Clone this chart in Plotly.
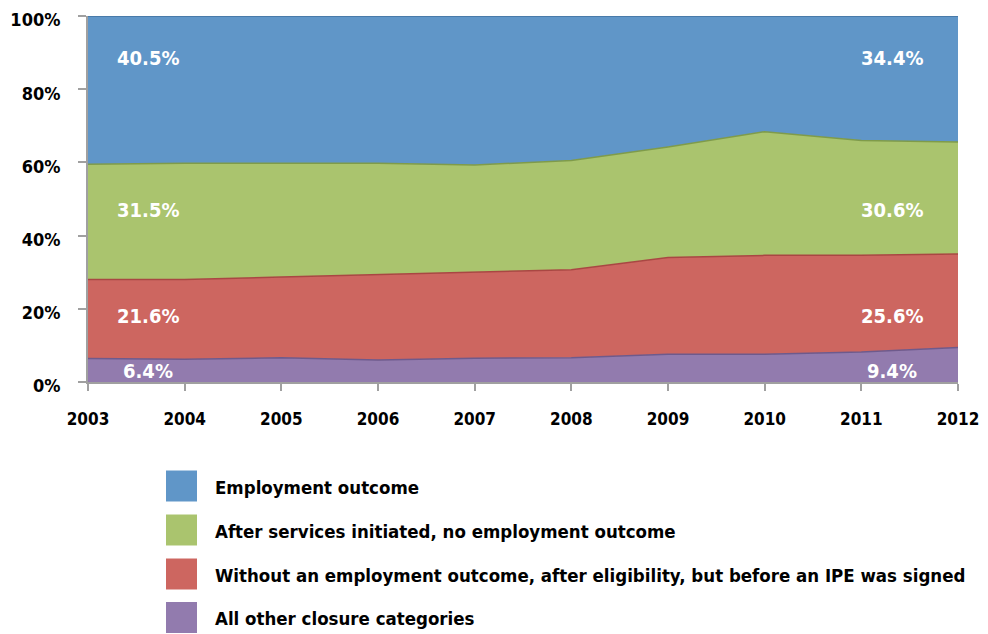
import plotly.graph_objects as go

years = [2003, 2004, 2005, 2006, 2007, 2008, 2009, 2010, 2011, 2012]
series_names = [
    "Employment outcome",
    "After services initiated, no employment outcome",
    "Without an employment outcome, after eligibility, but before an IPE was signed",
    "All other closure categories",
]
employment = [40.5, 40.2, 40.2, 40.2, 40.7, 39.5, 35.8, 31.6, 34.0, 34.4]
after_services = [31.5, 31.8, 31.1, 30.4, 29.2, 29.8, 30.2, 33.8, 31.4, 30.6]
before_ipe = [21.6, 21.8, 22.1, 23.4, 23.6, 24.1, 26.4, 27.0, 26.4, 25.6]
other = [6.4, 6.2, 6.6, 6.0, 6.5, 6.6, 7.6, 7.6, 8.2, 9.4]
y_ticks = [0, 20, 40, 60, 80, 100]
y_tick_labels = ["0%", "20%", "40%", "60%", "80%", "100%"]

fills = ["#6096C8", "#AAC46E", "#CD6660", "#927BAE"]
lines = ["#41709F", "#7F9B4A", "#A94743", "#6E5A8C"]

FONT = "DejaVu Sans Condensed, Liberation Sans Narrow, Roboto, sans-serif"

# page body has an 8px margin -> figure drawn offset by 8px
OFF = 8
W, H = 988 - OFF, 634 - OFF
PL, PR, PT, PB = 88, 958, 16, 382  # target plot box in window pixels

fig = go.Figure()
values = [employment, after_services, before_ipe, other]
for idx in [3, 2, 1, 0]:
    fig.add_trace(go.Scatter(
        x=years, y=values[idx], name=series_names[idx],
        mode="lines", stackgroup="one",
        line=dict(color=lines[idx], width=1.5),
        fillcolor=fills[idx], showlegend=False,
        hoverinfo="x+y+name",
    ))

label_y = [88.4, 46.9, 18.0, 2.9]
annotations = []
for idx in range(4):
    annotations.append(dict(
        x=2003.62, y=label_y[idx], xref="x", yref="y",
        text=f"<b>{values[idx][0]:.1f}%</b>", showarrow=False,
        font=dict(family=FONT, size=20, color="white"),
    ))
    annotations.append(dict(
        x=2011.32, y=label_y[idx], xref="x", yref="y",
        text=f"<b>{values[idx][-1]:.1f}%</b>", showarrow=False,
        font=dict(family=FONT, size=20, color="white"),
    ))

def px_to_paper_x(px):
    return (px - PL) / (PR - PL)

def px_to_paper_y(py):
    return (PB - py) / (PB - PT)

shapes = []
legend_y = [486, 530, 574, 617.5]
for idx in range(4):
    yc = legend_y[idx]
    shapes.append(dict(
        type="rect", xref="paper", yref="paper",
        x0=px_to_paper_x(166), x1=px_to_paper_x(197),
        y0=px_to_paper_y(yc + 15.5), y1=px_to_paper_y(yc - 15.5),
        fillcolor=fills[idx], line=dict(width=0),
    ))
    annotations.append(dict(
        x=px_to_paper_x(213), y=px_to_paper_y(yc + 1),
        xref="paper", yref="paper", xanchor="left", yanchor="middle",
        text=f"<b>{series_names[idx]}</b>", showarrow=False,
        font=dict(family=FONT, size=18.5, color="black"),
    ))

fig.update_layout(
    width=W, height=H,
    margin=dict(l=PL - OFF, r=W - (PR - OFF), t=PT - OFF, b=H - (PB - OFF), autoexpand=False),
    paper_bgcolor="white", plot_bgcolor="white",
    font=dict(family=FONT, color="black"),
    annotations=annotations, shapes=shapes,
    showlegend=False,
    xaxis=dict(
        range=[2003, 2012], tickmode="array", tickvals=years,
        ticktext=[f"<b>{y}</b>" for y in years],
        showgrid=False, zeroline=False, showline=True,
        linecolor="#A0A0A0", linewidth=2, automargin=False,
        ticks="outside", ticklen=7, tickcolor="#A0A0A0", tickwidth=2,
        tickfont=dict(family=FONT, size=17, color="black"),
        ticklabelstandoff=14, ticklabeloverflow="allow",
    ),
    yaxis=dict(
        range=[0, 100], tickmode="array", tickvals=y_ticks,
        ticktext=[f"<b>{t}</b>" for t in y_tick_labels],
        showgrid=False, zeroline=False, showline=True,
        linecolor="#A0A0A0", linewidth=2, automargin=False,
        ticks="outside", ticklen=8, tickcolor="#A0A0A0", tickwidth=2,
        tickfont=dict(family=FONT, size=18, color="black"),
        ticklabelstandoff=14, ticklabeloverflow="allow",
        ticklabelshift=4,
    ),
)

fig.write_html("out.html")
